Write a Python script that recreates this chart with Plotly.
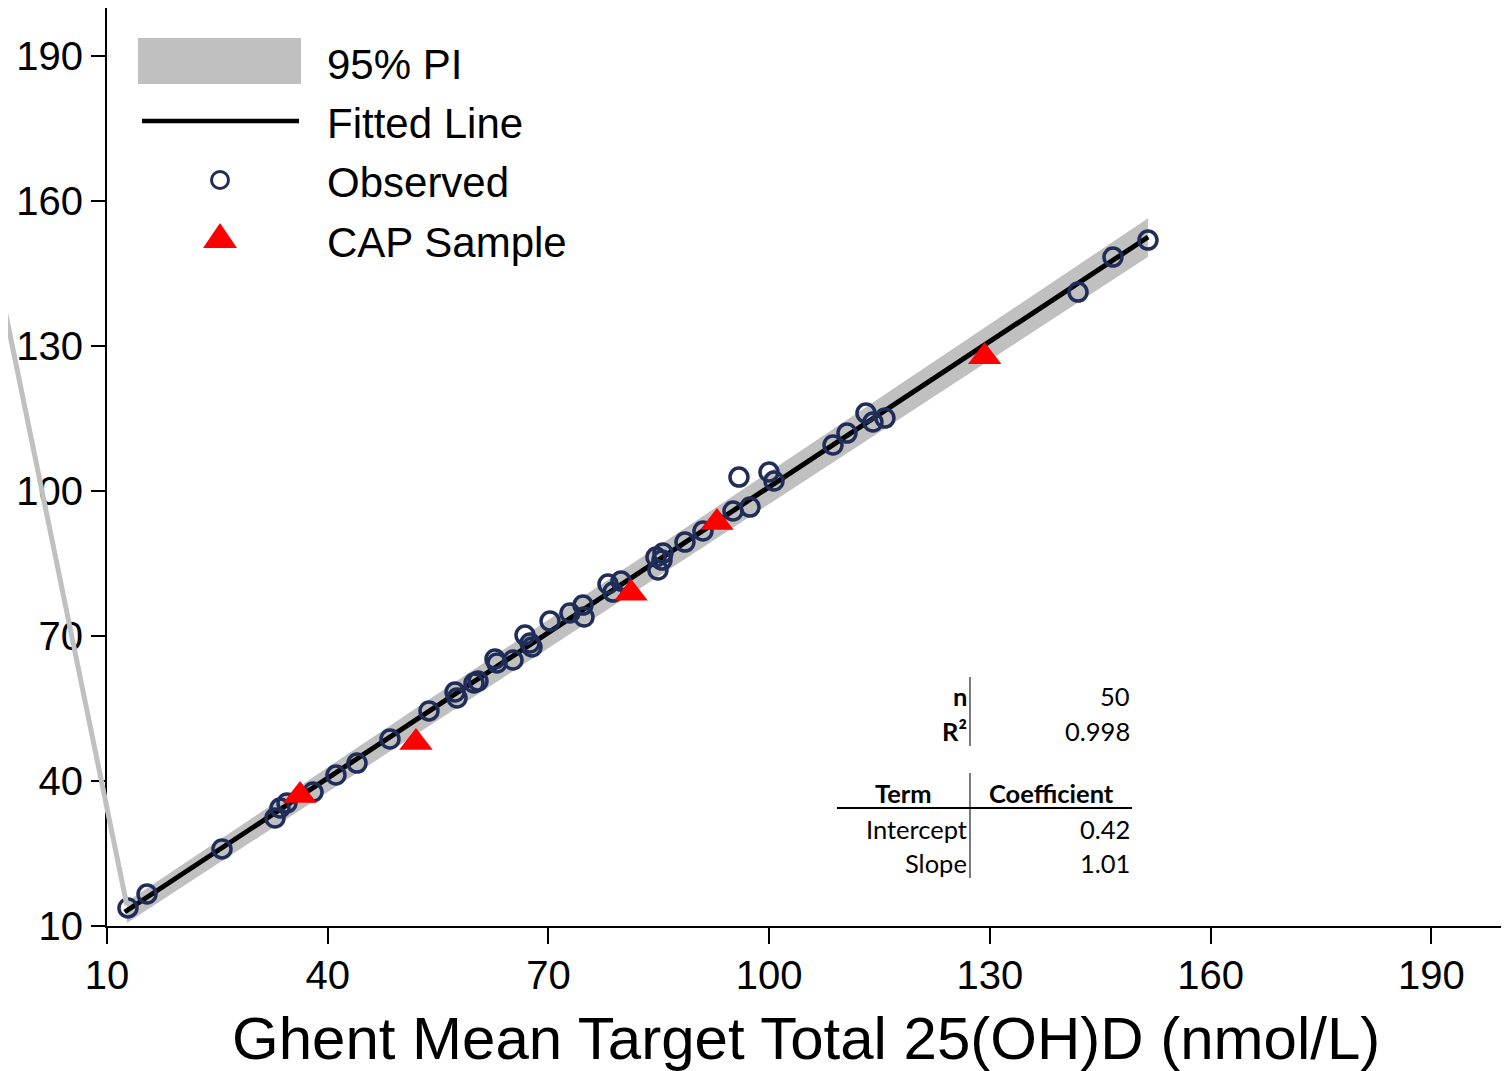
import plotly.graph_objects as go

# the page places the figure 8px in from the top-left corner
OFF = 8
W, H = 1509 - OFF, 1071 - OFF

# ---------------- data ----------------
obs_x = [12.85, 15.44, 25.63, 32.83, 33.51, 34.46, 38.00, 41.12, 43.98, 48.46,
         53.76, 57.30, 57.57, 59.88, 60.42, 62.73, 63.00, 65.18, 66.81, 67.49,
         67.76, 70.21, 72.92, 74.69, 74.83, 78.09, 78.77, 79.86, 84.61, 84.88,
         85.43, 85.56, 88.55, 91.00, 95.08, 95.89, 97.39, 99.97, 100.65, 108.67,
         110.57, 113.15, 114.10, 115.73, 141.97, 146.72, 151.48]
obs_y = [13.73, 16.62, 25.94, 32.35, 34.42, 35.46, 37.73, 41.25, 43.73, 48.70,
         54.50, 58.43, 57.19, 60.29, 60.70, 65.26, 64.43, 65.05, 70.22, 68.57,
         67.74, 73.12, 74.78, 76.43, 73.95, 80.78, 79.12, 81.40, 86.37, 83.68,
         85.74, 87.19, 89.47, 91.75, 95.89, 102.92, 96.71, 103.96, 102.10, 109.55,
         112.03, 116.17, 114.31, 115.13, 141.21, 148.45, 151.97]

cap_x = [36.23, 51.99, 81.22, 92.90, 129.28]
cap_y = [36.99, 47.96, 78.85, 93.49, 127.84]

fit_x = [12.4, 151.5]
fit_y = [12.9, 152.6]

pi_x = [12.7, 151.5]
pi_upper = [15.0, 156.5]
pi_lower = [10.6, 148.5]

# stray PI segment that runs off the left of the plot
stray_x = [-6.0, 12.7]
stray_y = [153.3, 14.3]

x_ticks = [10, 40, 70, 100, 130, 160, 190]
y_ticks = [10, 40, 70, 100, 130, 160, 190]

legend_labels = ["95% PI", "Fitted Line", "Observed", "CAP Sample"]

table_stats = [("n", "50"), ("R²", "0.998")]
table_header = ("Term", "Coefficient")
table_rows = [("Intercept", "0.42"), ("Slope", "1.01")]

x_title = "Ghent Mean Target Total 25(OH)D (nmol/L)"

# ---------------- styling ----------------
GRAY = "#c0c0c0"
NAVY = "#1f2d58"
RED = "#ff0000"
FONT = "Liberation Sans, Arial, sans-serif"
TFONT = "Lato, Open Sans, sans-serif"
TSIZE = 25.5


def fx(px):
    return (px - OFF) / W


def fy(py):
    return 1 - (py - OFF) / H


X0, X1 = 107, 1505
Y0, Y1 = 8, 926
XR = [10, 200]
YR = [10, 200]
ppu = (X1 - X0) / (XR[1] - XR[0])

fig = go.Figure()

# PI band
fig.add_trace(go.Scatter(x=pi_x, y=pi_lower, mode="lines", line=dict(width=0, color=GRAY),
                         showlegend=False, hoverinfo="skip"))
fig.add_trace(go.Scatter(x=pi_x, y=pi_upper, mode="lines", line=dict(width=0, color=GRAY),
                         fill="tonexty", fillcolor=GRAY, showlegend=False, hoverinfo="skip"))
# stray PI segment on a wider invisible axis pair
fig.add_trace(go.Scatter(x=stray_x, y=stray_y, mode="lines", line=dict(width=5, color=GRAY),
                         xaxis="x2", yaxis="y2", showlegend=False, hoverinfo="skip"))
# fitted line
fig.add_trace(go.Scatter(x=fit_x, y=fit_y, mode="lines", line=dict(width=5, color="black"),
                         showlegend=False))
# observed
fig.add_trace(go.Scatter(x=obs_x, y=obs_y, mode="markers",
                         marker=dict(symbol="circle-open", size=18, color=NAVY,
                                     line=dict(width=3.5, color=NAVY)),
                         showlegend=False))
# CAP sample
fig.add_trace(go.Scatter(x=cap_x, y=cap_y, mode="markers",
                         marker=dict(symbol="triangle-up", size=29, color=RED,
                                     line=dict(width=0)),
                         showlegend=False))

shapes = []
annotations = []

# ---- manual legend ----
shapes.append(dict(type="rect", xref="paper", yref="paper",
                   x0=fx(138), x1=fx(301), y0=fy(84), y1=fy(38),
                   fillcolor=GRAY, line=dict(width=0)))
shapes.append(dict(type="line", xref="paper", yref="paper",
                   x0=fx(142), x1=fx(299), y0=fy(121), y1=fy(121),
                   line=dict(color="black", width=4.5)))
shapes.append(dict(type="circle", xref="paper", yref="paper",
                   x0=fx(211.5), x1=fx(228.5), y0=fy(188.5), y1=fy(171.5),
                   line=dict(color=NAVY, width=3)))
shapes.append(dict(type="path", xref="paper", yref="paper",
                   path=f"M {fx(203)} {fy(248)} L {fx(237)} {fy(248)} L {fx(220)} {fy(223)} Z",
                   fillcolor=RED, line=dict(width=0)))
for lab, yc in zip(legend_labels, [64, 123, 182, 242]):
    annotations.append(dict(text=lab, xref="paper", yref="paper", x=fx(325), y=fy(yc),
                            xanchor="left", yanchor="middle", showarrow=False,
                            font=dict(family=FONT, size=42, color="black")))

# ---- stats table ----
for (lab, val), yc in zip(table_stats, [696, 731]):
    annotations.append(dict(text=f"<b>{lab}</b>", xref="paper", yref="paper", x=fx(969), y=fy(yc),
                            xanchor="right", yanchor="middle", showarrow=False,
                            font=dict(family=TFONT, size=TSIZE, color="black")))
    annotations.append(dict(text=val, xref="paper", yref="paper", x=fx(1132), y=fy(yc),
                            xanchor="right", yanchor="middle", showarrow=False,
                            font=dict(family=TFONT, size=TSIZE, color="black")))
annotations.append(dict(text=f"<b>{table_header[0]}</b>", xref="paper", yref="paper", x=fx(903), y=fy(793),
                        xanchor="center", yanchor="middle", showarrow=False,
                        font=dict(family=TFONT, size=TSIZE, color="black")))
annotations.append(dict(text=f"<b>{table_header[1]}</b>", xref="paper", yref="paper", x=fx(1051), y=fy(793),
                        xanchor="center", yanchor="middle", showarrow=False,
                        font=dict(family=TFONT, size=TSIZE, color="black")))
for (lab, val), yc in zip(table_rows, [829, 863]):
    annotations.append(dict(text=lab, xref="paper", yref="paper", x=fx(969), y=fy(yc),
                            xanchor="right", yanchor="middle", showarrow=False,
                            font=dict(family=TFONT, size=TSIZE, color="black")))
    annotations.append(dict(text=val, xref="paper", yref="paper", x=fx(1132), y=fy(yc),
                            xanchor="right", yanchor="middle", showarrow=False,
                            font=dict(family=TFONT, size=TSIZE, color="black")))
shapes.append(dict(type="line", xref="paper", yref="paper", x0=fx(970), x1=fx(970),
                   y0=fy(746), y1=fy(677), line=dict(color="#333333", width=1.3)))
shapes.append(dict(type="line", xref="paper", yref="paper", x0=fx(970), x1=fx(970),
                   y0=fy(878), y1=fy(773), line=dict(color="#333333", width=1.3)))
shapes.append(dict(type="line", xref="paper", yref="paper", x0=fx(837), x1=fx(1132),
                   y0=fy(808), y1=fy(808), line=dict(color="black", width=2)))

# axis title
annotations.append(dict(text=x_title, xref="paper", yref="paper", x=fx((X0 + X1) / 2), y=fy(1038),
                        xanchor="center", yanchor="middle", showarrow=False, borderpad=0,
                        font=dict(family=FONT, size=60, color="black")))

fig.update_layout(
    template="none",
    width=W, height=H, autosize=False,
    margin=dict(l=0, r=0, t=0, b=0, pad=0, autoexpand=False),
    paper_bgcolor="white", plot_bgcolor="rgba(0,0,0,0)",
    showlegend=False,
    xaxis=dict(domain=[fx(X0), fx(X1)], range=XR, tickvals=x_ticks, showgrid=False, zeroline=False,
               showline=True, linecolor="black", linewidth=2, ticks="outside", ticklen=16,
               tickwidth=2, tickcolor="black", anchor="y", automargin=False, ticklabelstandoff=-3,
               tickfont=dict(family=FONT, size=40, color="black")),
    yaxis=dict(domain=[fy(Y1), fy(Y0)], range=YR, tickvals=y_ticks, showgrid=False, zeroline=False,
               showline=True, linecolor="black", linewidth=2, ticks="outside", ticklen=14,
               tickwidth=2, tickcolor="black", anchor="x", ticklabelstandoff=0, automargin=False,
               tickfont=dict(family=FONT, size=40, color="black")),
    xaxis2=dict(domain=[0, fx(X1)], range=[XR[0] - (X0 - OFF) / ppu, XR[1]], visible=False,
                anchor="y2", automargin=False),
    yaxis2=dict(domain=[fy(Y1), fy(Y0)], range=YR, visible=False, anchor="x2", automargin=False),
    shapes=shapes,
    annotations=annotations,
)

fig.write_html("out.html")
